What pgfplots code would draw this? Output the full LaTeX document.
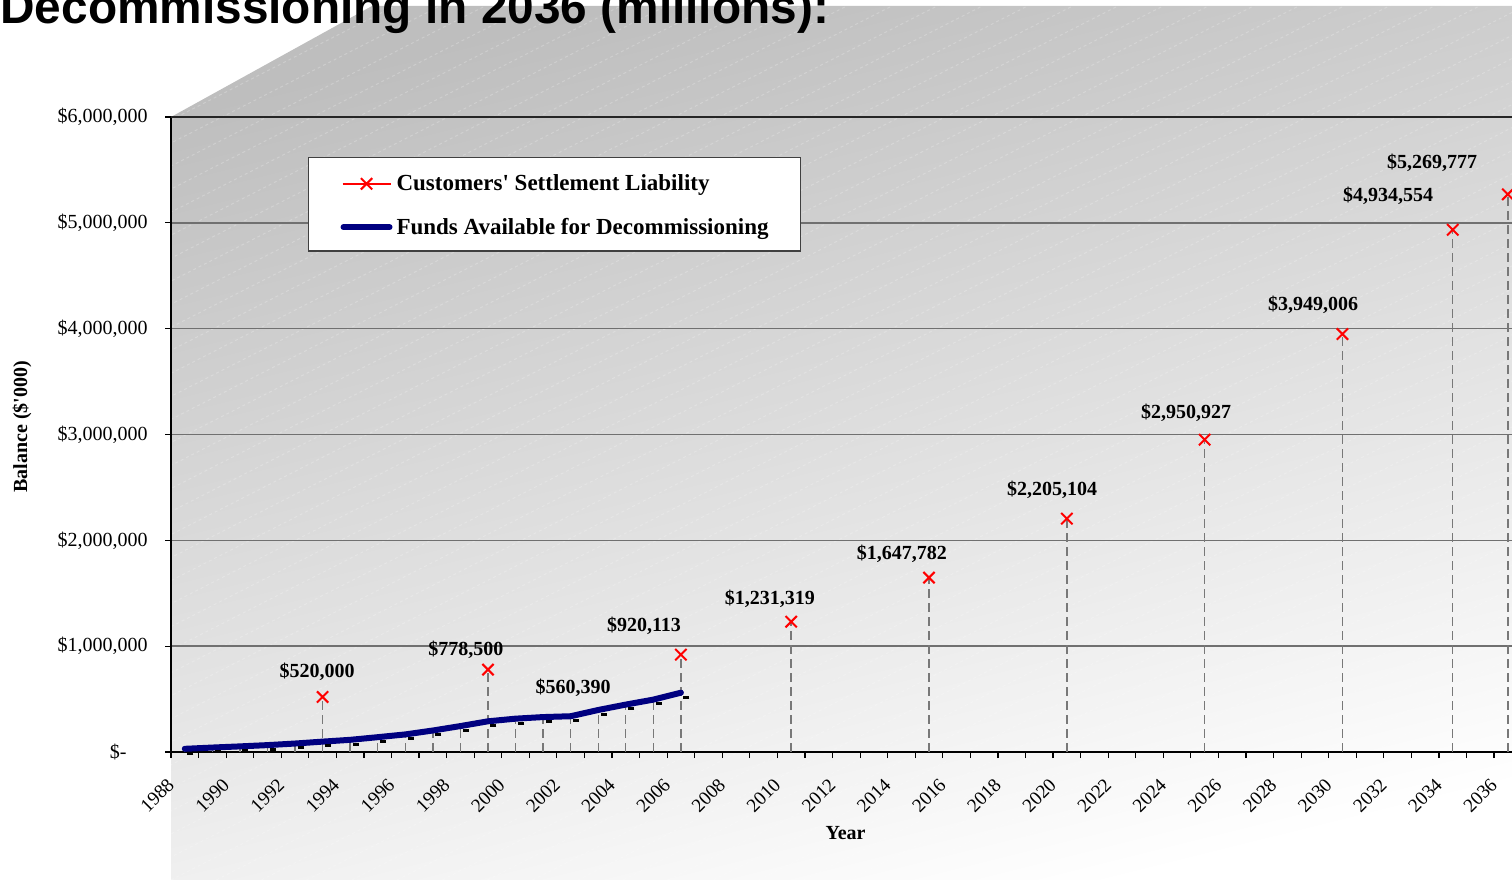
\documentclass[border=0pt]{standalone}
\usepackage{pgfplots}
\pgfplotsset{compat=1.18}
\usepackage{pgfplotstable}
\usepackage{fontspec}
\setmainfont{Liberation Serif}
\newfontfamily\titlefont{Liberation Sans}
\definecolor{navyblue}{RGB}{0,0,128}
\definecolor{dropgray}{RGB}{120,120,120}
\definecolor{gridgray}{RGB}{112,112,112}
\definecolor{wallgray}{RGB}{190,190,190}

\pgfplotstableread{
x y
1988.5 30000
1989.5 42000
1990.5 53000
1991.5 65000
1992.5 80000
1993.5 98000
1994.5 115000
1995.5 140000
1996.5 166000
1997.5 203000
1998.5 245000
1999.5 290000
2000.5 315000
2001.5 330000
2002.5 338000
2003.5 397000
2004.5 448000
2005.5 495000
2006.5 560390
}\fundstable

\pgfplotstableread{
x y
1993.5 520000
1999.5 778500
2006.5 920113
2010.5 1231319
2015.5 1647782
2020.5 2205104
2025.5 2950927
2030.5 3949006
2034.5 4934554
2036.5 5269777
}\liabtable

\pgfplotstableread{
x y
1988.7 -11000
1989.7 1000
1990.7 12000
1991.7 24000
1992.7 39000
1993.7 57000
1994.7 74000
1995.7 99000
1996.7 125000
1997.7 162000
1998.7 204000
1999.7 249000
2000.7 274000
2001.7 289000
2002.7 297000
2003.7 356000
2004.7 407000
2005.7 454000
2006.7 519390
}\shadowtable

\pgfplotstableread{
x y label
1993.30 756000 520,000
1998.70 964000 778,500
2005.16 1191000 920,113
2002.59 605000 560,390
2009.73 1446000 1,231,319
2014.52 1871000 1,647,782
2019.97 2476000 2,205,104
2024.83 3203000 2,950,927
2029.44 4224000 3,949,006
2032.16 5254000 4,934,554
2033.75 5565000 5,269,777
}\labeltable

\begin{document}
\begin{tikzpicture}
\path[use as bounding box, clip] (0bp,0bp) rectangle (756bp,440bp);
\shade[top color=wallgray, bottom color=white, shading angle=14]
  (85.5bp,0bp) -- (85.5bp,381.5bp) -- (186bp,437bp) -- (780bp,437bp) -- (780bp,0bp) -- cycle;
\begin{scope}
\clip (85.5bp,0bp) -- (85.5bp,381.5bp) -- (186bp,437bp) -- (780bp,437bp) -- (780bp,0bp) -- cycle;
\foreach \i in {-45,...,36} {
  \draw[white, opacity=0.22, line width=0.5bp, dash pattern=on 1.5bp off 1.5bp] (\i*22.6bp+85.5bp,0bp) -- ++(27:1000bp);
}
\end{scope}
\node[anchor=base west, inner sep=0pt, font=\titlefont\bfseries\fontsize{23.9bp}{28bp}\selectfont]
  at (0bp,428bp) {Decommissioning in 2036 (millions):};
\begin{axis}[
  at={(85.5bp,64bp)}, anchor=south west,
  scale only axis, width=675.3bp, height=317.5bp,
  xmin=1988, xmax=2037, ymin=0, ymax=6000000,
  clip=false,
  axis x line*=bottom, axis y line*=left,
  axis line style={black, line width=0.75bp},
  xtick={1988,1990,...,2036},
  minor xtick={1989,1991,...,2037},
  xticklabels={1988,1990,1992,1994,1996,1998,2000,2002,2004,2006,2008,2010,2012,2014,2016,2018,2020,2022,2024,2026,2028,2030,2032,2034,2036},
  ytick={0,1000000,2000000,3000000,4000000,5000000,6000000},
  yticklabels={{\$-\rule{10.5bp}{0pt}},{\$1,000,000},{\$2,000,000},{\$3,000,000},{\$4,000,000},{\$5,000,000},{\$6,000,000}},
  scaled y ticks=false,
  tick align=outside, major tick length=3bp, minor tick length=3bp,
  tick style={black, line width=0.6bp},
  ymajorgrids, major grid style={gridgray, line width=0.75bp},
  yticklabel style={font=\fontsize{10bp}{12bp}\selectfont, inner sep=0pt, xshift=-8.5bp},
  xticklabel style={font=\fontsize{9.6bp}{11bp}\selectfont, inner sep=0pt, yshift=-11.8bp, rotate=45, anchor=east},
  xlabel={\textbf{Year}},
  ylabel={\textbf{Balance (\$\textquotesingle 000)}},
  label style={font=\fontsize{10bp}{12bp}\selectfont},
  xlabel style={at={(axis description cs:0.4994,-0.1276)}, anchor=center},
  ylabel style={at={(axis description cs:-0.1103,0.512)}, anchor=center},
  legend style={at={(0.1014,0.937)}, anchor=north west, draw=black!75, line width=0.6bp, fill=white,
    inner xsep=16bp, inner ysep=5bp, row sep=6.7bp, column sep=2bp,
    font=\fontsize{11.5bp}{13bp}\selectfont\bfseries,
    nodes={inner sep=0pt, text height=11.5bp, text depth=3.5bp}},
  legend cell align=left,
]
\addplot[ycomb, dropgray, line width=0.7bp, dash pattern=on 4.5bp off 2.5bp, mark=none, forget plot] table {\fundstable};
\addplot[ycomb, dropgray, line width=0.7bp, dash pattern=on 4.5bp off 2.5bp, mark=none, forget plot] table {\liabtable};
\addplot[only marks, mark=-, mark size=1.5bp, mark options={line width=1.5bp, black}, forget plot] table {\shadowtable};
\addplot[only marks, mark=x, mark size=4bp, red, mark options={line width=1bp, solid},
  legend image code/.code={\draw[red, line width=0.75bp] plot[sharp plot, mark=x, mark repeat=2, mark phase=2, mark size=4bp, mark options={line width=1bp}] coordinates {(1bp,-0.6bp) (13bp,-0.6bp) (25bp,-0.6bp)};}]
  table {\liabtable};
\addlegendentry{Customers\textquotesingle\ Settlement Liability}
\addplot[navyblue, line width=3bp, line cap=round, line join=round, mark=none,
  legend image code/.code={\draw[navyblue, line width=3bp, line cap=round] (1.5bp,-0.6bp) -- (24.5bp,-0.6bp);}]
  table {\fundstable};
\addlegendentry{Funds Available for Decommissioning}
\addplot[draw=none, mark=none, forget plot, nodes near coords={\$\pgfplotspointmeta}, point meta=explicit symbolic,
  nodes near coords style={anchor=center, font=\fontsize{10bp}{12bp}\selectfont\bfseries, inner sep=0pt, text=black}]
  table[meta=label] {\labeltable};
\draw[black!85, line width=0.9bp] (rel axis cs:0,1) -- (rel axis cs:1,1);
\end{axis}
\end{tikzpicture}
\end{document}
